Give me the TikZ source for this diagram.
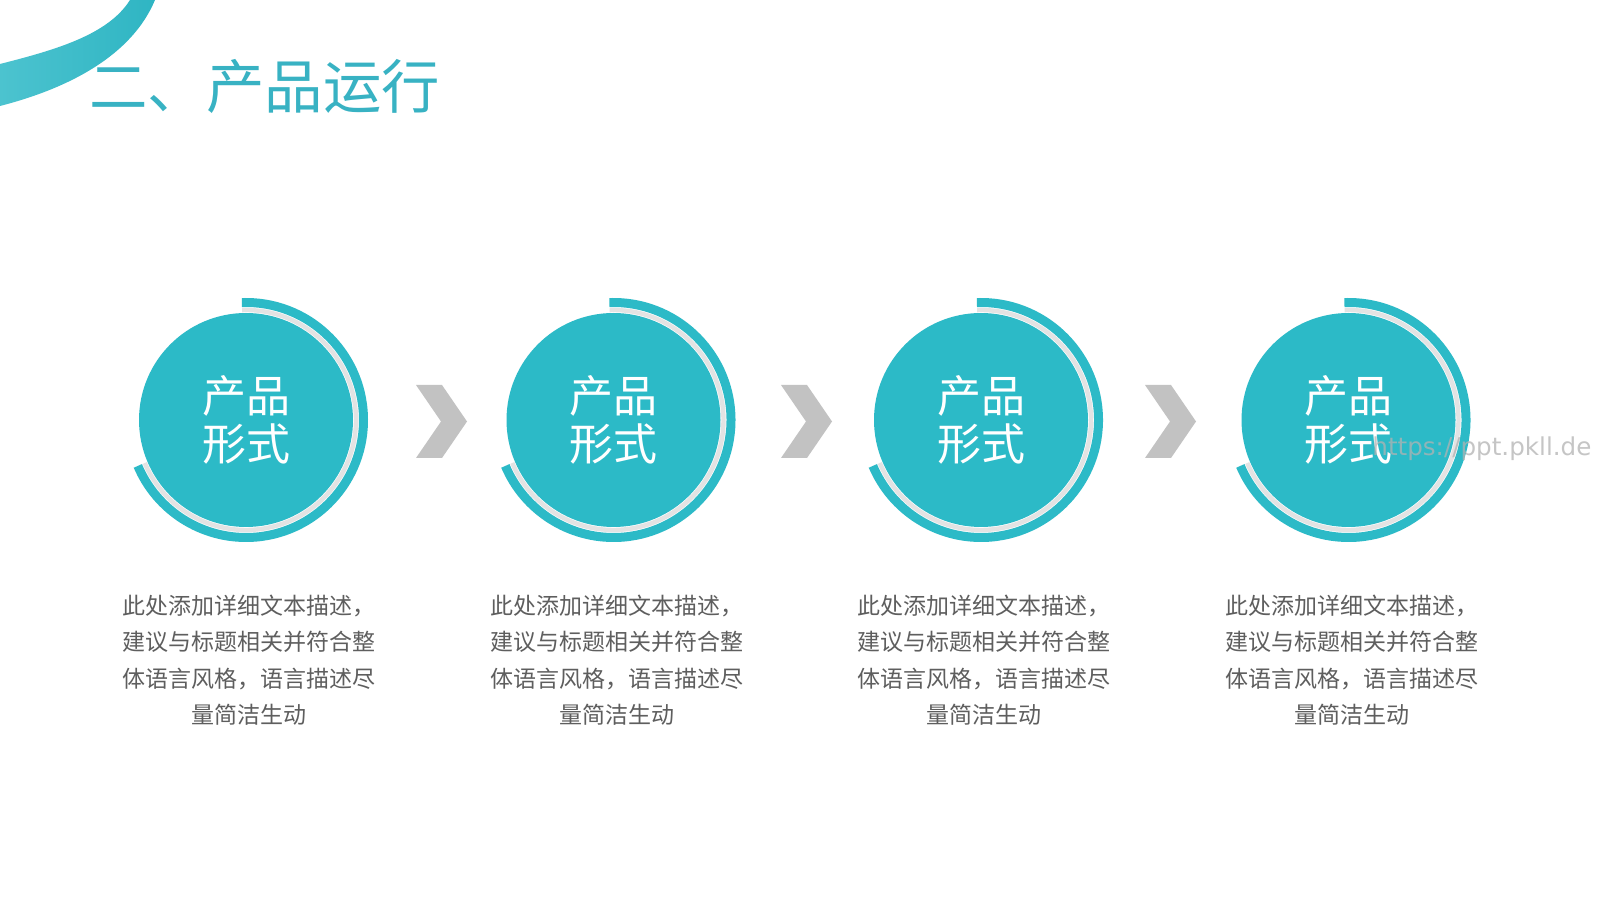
\documentclass[tikz,border=0pt]{standalone}
\usepackage{fontspec}
\setmainfont{Noto Sans CJK SC}
\newfontfamily\cjk{Noto Sans CJK SC}
\newfontfamily\wmfont{DejaVu Sans}
\definecolor{tealfill}{HTML}{2CBAC7}
\definecolor{titlecol}{HTML}{38B2C3}
\definecolor{ringgray}{HTML}{E3E3E3}
\definecolor{chevgray}{HTML}{C2C2C2}
\definecolor{desccol}{HTML}{5E5E5E}
\definecolor{swooshA}{HTML}{4CC3CF}
\definecolor{swooshB}{HTML}{2FB5C3}
\tikzset{
  stepcircle/.style={circle, fill=tealfill, minimum size=107pt, inner sep=0pt,
    text=white, align=center, font=\cjk\fontsize{22}{24}\selectfont},
  outerarc/.style={draw=tealfill, line width=4.5pt},
  innerring/.style={draw=ringgray, line width=2.2pt},
  desctext/.style={align=center, text=desccol, font=\cjk\fontsize{11.5}{18.25}\selectfont},
  chevshape/.style={fill=chevgray},
}
\begin{document}
\begin{tikzpicture}[x=0.5pt,y=0.5pt]
\useasboundingbox (0,0) rectangle (1600,900);
\fill[white] (0,0) rectangle (1600,900);
% swoosh
\shade[left color=swooshA, right color=swooshB]
  (0,836) .. controls (55,850) and (108,865) .. (130,900) -- (155,900)
  .. controls (132,845) and (70,812) .. (0,794) -- cycle;
% title
\node[anchor=west, text=titlecol, font=\cjk\fontsize{29.2}{31}\selectfont, inner sep=0pt] (title) at (89,814) {二、产品运行};
% steps
\foreach \i/\cx in {1/246, 2/613.5, 3/981, 4/1348.5}{
  \node[stepcircle] (c\i) at (\cx,480) {产品\\形式};
  \draw[innerring] ([shift={(92:110)}]c\i.center) arc[start angle=92, end angle=-157, radius=110];
  \draw[outerarc] ([shift={(92:117.5)}]c\i.center) arc[start angle=92, end angle=-157, radius=117.5];
  \node[desctext] (d\i) at (\cx+3,240) {此处添加详细文本描述，\\建议与标题相关并符合整\\体语言风格，语言描述尽\\量简洁生动};
}
% chevrons
\foreach \x in {416, 781, 1145}{
  \fill[chevshape] (\x,515) -- (\x+26,515) -- (\x+51,478.5) -- (\x+26,442) -- (\x,442) -- (\x+25,478.5) -- cycle;
}
% watermark
\node[anchor=west, text=gray!60, opacity=0.75, font=\wmfont\fontsize{12.3}{14}\selectfont, inner sep=0pt] (wm) at (1372,451) {https://ppt.pkll.de};
\end{tikzpicture}
\end{document}
